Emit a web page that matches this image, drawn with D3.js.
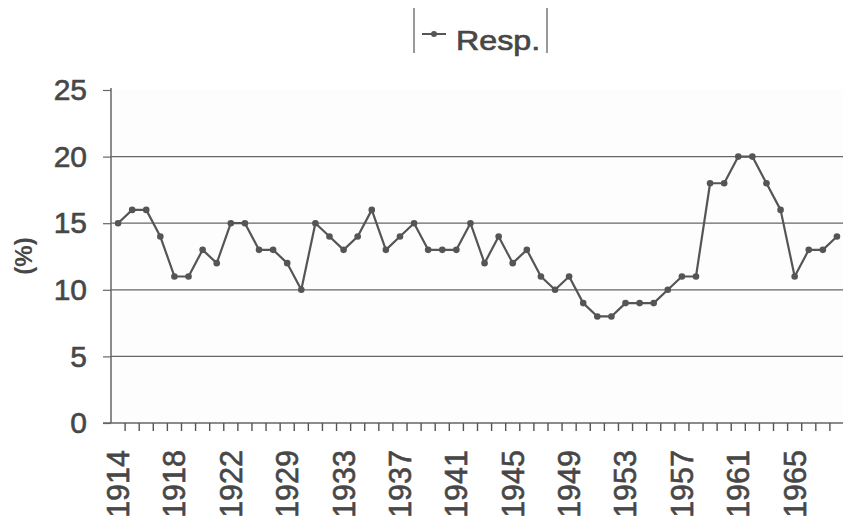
<!DOCTYPE html>
<html><head><meta charset="utf-8">
<script src="https://cdn.jsdelivr.net/npm/d3@7"></script>
<style>body{margin:0;background:#fff}svg{display:block;font-family:"Liberation Sans",Arial,sans-serif}</style>
</head><body>
<svg id="c" width="843" height="521"></svg>
<script>
const years = ["1914","1915","1916","1917","1918","1919","1920","1921","1922","1923","1925","1927",
  "1929","1930","1931","1932","1933","1934","1935","1936","1937","1938","1939","1940","1941","1942",
  "1943","1944","1945","1946","1947","1948","1949","1950","1951","1952","1953","1954","1955","1956",
  "1957","1958","1959","1960","1961","1962","1963","1964","1965","1966","1967","1968"];
const resp = [15,16,16,14,11,11,13,12,15,15,13,13,12,10,15,14,13,14,16,13,14,15,13,13,13,15,
  12,14,12,13,11,10,11,9,8,8,9,9,9,10,11,11,18,18,20,20,18,16,11,13,13,14];
const yTicks = [0,5,10,15,20,25];
const gridVals = [5,10,15,20];
const seriesName = "Resp.";

const svg = d3.select("#c");
const L = 111, R = 844, T = 90, B = 423;
const x = d3.scaleBand().domain(years).range([L, R]).padding(0);
const y = d3.scaleLinear().domain([0,25]).range([B, T]);
const ink = "#474747";

// plot bg
svg.append("rect").attr("x",L).attr("y",T).attr("width",R-L).attr("height",B-T).attr("fill","#fdfdfd");

// gridlines
svg.append("g").selectAll("line").data(gridVals).join("line")
  .attr("x1",L).attr("x2",R-1).attr("y1",d=>y(d)).attr("y2",d=>y(d))
  .attr("stroke","#666").attr("stroke-width",1.2);

// y axis
const ya = svg.append("g").attr("transform",`translate(${L},0)`)
  .call(d3.axisLeft(y).tickValues(yTicks).tickSize(8).tickPadding(16).tickFormat(d3.format("d")));
ya.select(".domain").attr("stroke","#666").attr("stroke-width",1.5).attr("d",`M-0,${T-2}V${B}`);
ya.selectAll(".tick line").attr("stroke","#666").attr("stroke-width",1.2);
ya.selectAll(".tick text").attr("font-size",30).attr("fill",ink).attr("stroke",ink).attr("stroke-width",0.6)
  .attr("font-family","Liberation Sans, Arial, sans-serif");

// x axis line + boundary ticks
svg.append("line").attr("x1",L-8).attr("x2",R).attr("y1",B).attr("y2",B).attr("stroke","#666").attr("stroke-width",1.5);
const bounds = years.map(d=>x(d)).concat([x(years[years.length-1])+x.bandwidth()]);
svg.append("g").selectAll("line").data(bounds.slice(1)).join("line")
  .attr("x1",d=>d).attr("x2",d=>d).attr("y1",B).attr("y2",B+8)
  .attr("stroke","#555").attr("stroke-width",1.4);

// x labels
const xa = svg.append("g").attr("transform",`translate(0,${B})`)
  .call(d3.axisBottom(x).tickValues(years.filter((d,i)=>i%4===0)).tickSize(0));
xa.select(".domain").remove();
xa.selectAll(".tick text").attr("font-size",30.5).attr("fill",ink).attr("stroke",ink).attr("stroke-width",0.6)
  .attr("font-family","Liberation Sans, Arial, sans-serif")
  .attr("text-anchor","end").attr("transform","rotate(-90)")
  .attr("x",-27).attr("y",0).attr("dy","0.36em");

// y title
svg.append("text").attr("transform","translate(32,256) rotate(-90)")
  .attr("text-anchor","middle").attr("font-size",24).attr("font-weight","bold").attr("fill",ink).text("(%)");

// line
const line = d3.line().x((d,i)=>x(years[i])+x.bandwidth()/2).y(d=>y(d));
svg.append("path").datum(resp).attr("d",line).attr("fill","none").attr("stroke","#555").attr("stroke-width",2.2).attr("stroke-linejoin","round");
svg.append("g").selectAll("circle").data(resp).join("circle")
  .attr("cx",(d,i)=>x(years[i])+x.bandwidth()/2).attr("cy",d=>y(d)).attr("r",3.3).attr("fill","#555");

// legend
const lg = svg.append("g");
lg.append("line").attr("x1",414).attr("x2",414).attr("y1",8).attr("y2",53).attr("stroke","#777").attr("stroke-width",1.5);
lg.append("line").attr("x1",547).attr("x2",547).attr("y1",8).attr("y2",53).attr("stroke","#777").attr("stroke-width",1.5);
lg.append("line").attr("x1",422).attr("x2",446).attr("y1",34).attr("y2",34).attr("stroke","#555").attr("stroke-width",2);
lg.append("circle").attr("cx",434).attr("cy",34).attr("r",3).attr("fill","#555");
lg.append("text").attr("transform","translate(456,50) scale(1.15,1)").attr("font-size",28)
  .attr("fill",ink).attr("stroke",ink).attr("stroke-width",0.7).text(seriesName);
</script>
</body></html>
